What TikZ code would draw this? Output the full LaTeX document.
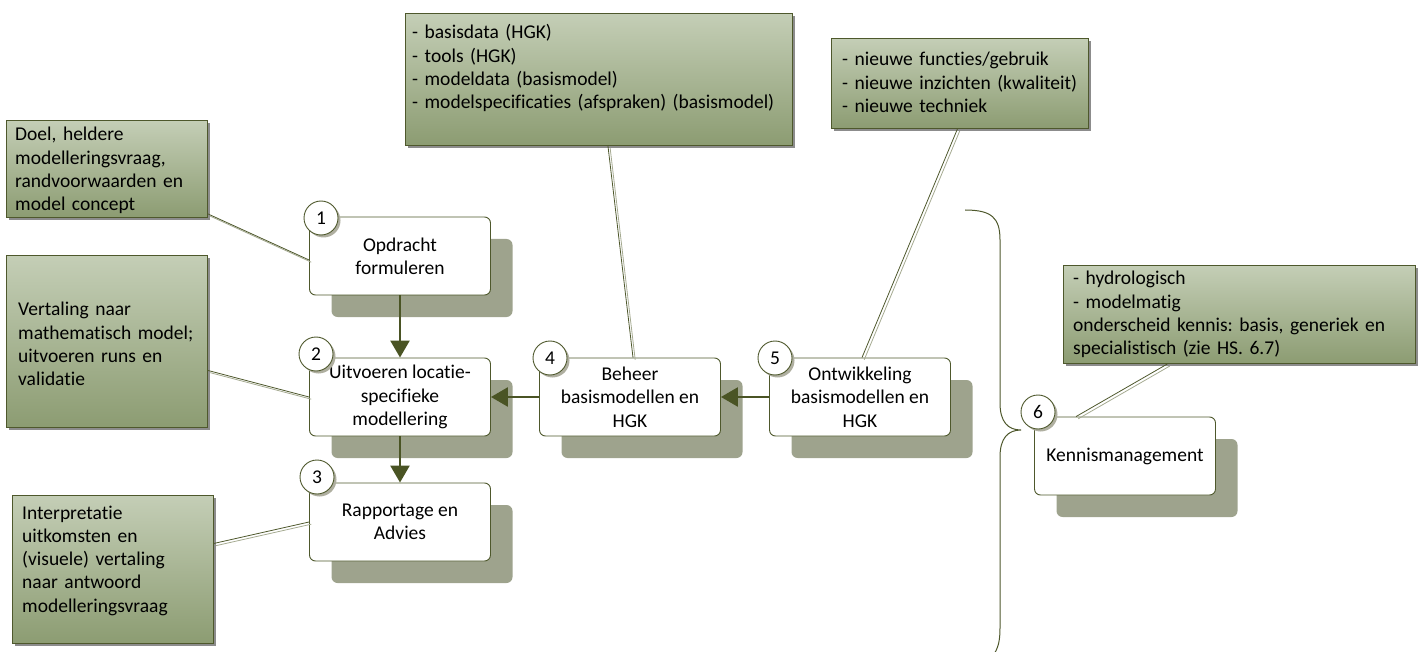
\documentclass[tikz,border=0pt]{standalone}
\usepackage{fontspec}
\setmainfont{Carlito}[Ligatures=NoCommon]
\usetikzlibrary{arrows.meta,shadows,calc}
\definecolor{olivedark}{RGB}{78,88,44}
\definecolor{arrowc}{RGB}{74,84,36}
\definecolor{boxshade}{RGB}{158,163,141}
\definecolor{calltop}{RGB}{196,206,182}
\definecolor{callbot}{RGB}{140,156,114}
\definecolor{callshade}{RGB}{140,140,140}
\definecolor{linklight}{RGB}{165,170,145}
\definecolor{circshade}{RGB}{175,175,160}
\begin{document}
\frenchspacing
\begin{tikzpicture}[x=1pt,y=-1pt,
  every node/.style={font=\fontsize{19.5}{23.3}\selectfont},
  procbox/.style={draw=olivedark, line width=0.9pt, fill=white, rounded corners=6pt,
    minimum width=181pt, minimum height=78pt, align=center, inner sep=0pt,
    drop shadow={shadow xshift=22pt, shadow yshift=-22pt, fill=boxshade, opacity=1}},
  numcirc/.style={circle, draw=olivedark, line width=0.9pt, fill=white,
    minimum size=34pt, inner sep=0pt,
    drop shadow={shadow xshift=2.5pt, shadow yshift=-2.5pt, fill=circshade, opacity=1}},
  callbox/.style={draw=olivedark, line width=0.9pt, top color=calltop, bottom color=callbot,
    inner sep=0pt, anchor=north west,
    drop shadow={shadow xshift=3pt, shadow yshift=-3pt, fill=callshade, opacity=1}},
  calltext/.style={anchor=base west, inner sep=0pt, align=left, text width=#1},
  flow/.style={draw=arrowc, line width=2.6pt, -{Triangle[length=17pt,width=19pt]}},
  linkdark/.style={draw=olivedark, line width=0.8pt},
  linklite/.style={draw=linklight, line width=0.8pt, transform canvas={shift={(2.2pt,-2.2pt)}}},
]
\useasboundingbox (0,0) rectangle (1424,652);

% explanatory callouts
\node[callbox, minimum width=201pt, minimum height=97pt]  (c1) at (6,120) {};
\node[callbox, minimum width=201pt, minimum height=172pt] (c2) at (6,255) {};
\node[callbox, minimum width=201pt, minimum height=148pt] (c3) at (12,495) {};
\node[callbox, minimum width=387pt, minimum height=132pt] (c4) at (405,13) {};
\node[callbox, minimum width=257pt, minimum height=90pt]  (c5) at (831,38) {};
\node[callbox, minimum width=352pt, minimum height=98pt]  (c6) at (1063,265) {};

\node[calltext=190pt] (t1) at (15,141) {Doel, heldere\\modelleringsvraag,\\randvoorwaarden en\\model concept};
\node[calltext=190pt] (t2) at (18,316) {Vertaling naar\\mathematisch model;\\uitvoeren runs en\\validatie};
\node[calltext=190pt] (t3) at (22,519) {Interpretatie\\uitkomsten en\\(visuele) vertaling\\naar antwoord\\modelleringsvraag};
\node[calltext=375pt] (t4) at (412,39) {- basisdata (HGK)\\- tools (HGK)\\- modeldata (basismodel)\\- modelspecificaties (afspraken) (basismodel)};
\node[calltext=245pt] (t5) at (842,66) {- nieuwe functies/gebruik\\- nieuwe inzichten (kwaliteit)\\- nieuwe techniek};
\node[calltext=345pt] (t6) at (1073,285) {- hydrologisch\\- modelmatig\\onderscheid kennis: basis, generiek en\\specialistisch (zie HS. 6.7)};

% process steps
\node[procbox] (b1) at (400,256) {Opdracht\\formuleren};
\node[procbox] (b2) at (400,397) {Uitvoeren locatie-\\specifieke\\modellering};
\node[procbox] (b3) at (400,522) {Rapportage en\\Advies};
\node[procbox] (b4) at (630,397) {Beheer\\basismodellen en\\HGK};
\node[procbox] (b5) at (860,397) {Ontwikkeling\\basismodellen en\\HGK};
\node[procbox] (b6) at (1125,456) {Kennismanagement};

% callout leaders (double thin line)
\coordinate (l1a) at ($(c1.south east)+(0,-4)$);
\coordinate (l1b) at ($(b1.west)+(0,4)$);
\coordinate (l2a) at ($(c2.east)+(0,29)$);
\coordinate (l2b) at (b2.west);
\coordinate (l3a) at ($(c3.east)+(0,-26)$);
\coordinate (l3b) at (b3.west);
\coordinate (l4a) at ($(c4.south)+(9,0)$);
\coordinate (l4b) at ($(b4.north)+(3,0)$);
\coordinate (l5a) at ($(c5.south)+(-2.5,0)$);
\coordinate (l5b) at ($(b5.north)+(2,0)$);
\coordinate (l6a) at ($(c6.south)+(-72,0)$);
\coordinate (l6b) at ($(b6.north west)+(42,0)$);
\foreach \s/\e in {l1a/l1b,l2a/l2b,l3a/l3b,l4a/l4b,l5a/l5b,l6a/l6b}{
  \draw[linklite] (\s) -- (\e);
  \draw[linkdark] (\s) -- (\e);
}

% flow arrows
\draw[flow] (b1.south) -- (b2.north);
\draw[flow] (b2.south) -- (b3.north);
\draw[flow] (b4.west) -- (b2.east);
\draw[flow] (b5.west) -- (b4.east);

% step numbers
\node[numcirc] (n1) at (321,218) {1};
\node[numcirc] (n2) at (316,354) {2};
\node[numcirc] (n3) at (317,477) {3};
\node[numcirc] (n4) at (550,358) {4};
\node[numcirc] (n5) at (775,358) {5};
\node[numcirc] (n6) at (1038,412) {6};

% brace grouping steps 1-5 towards knowledge management
\draw[olivedark, line width=1pt] (965,210) .. controls (992,210) and (1000,218) .. (1000,240)
  -- (1000,403) .. controls (1000,422) and (1008,430) .. (1021,430)
  .. controls (1008,430) and (1000,438) .. (1000,457)
  -- (1000,628) .. controls (1000,642) and (998,648) .. (993,656);
\end{tikzpicture}
\end{document}
